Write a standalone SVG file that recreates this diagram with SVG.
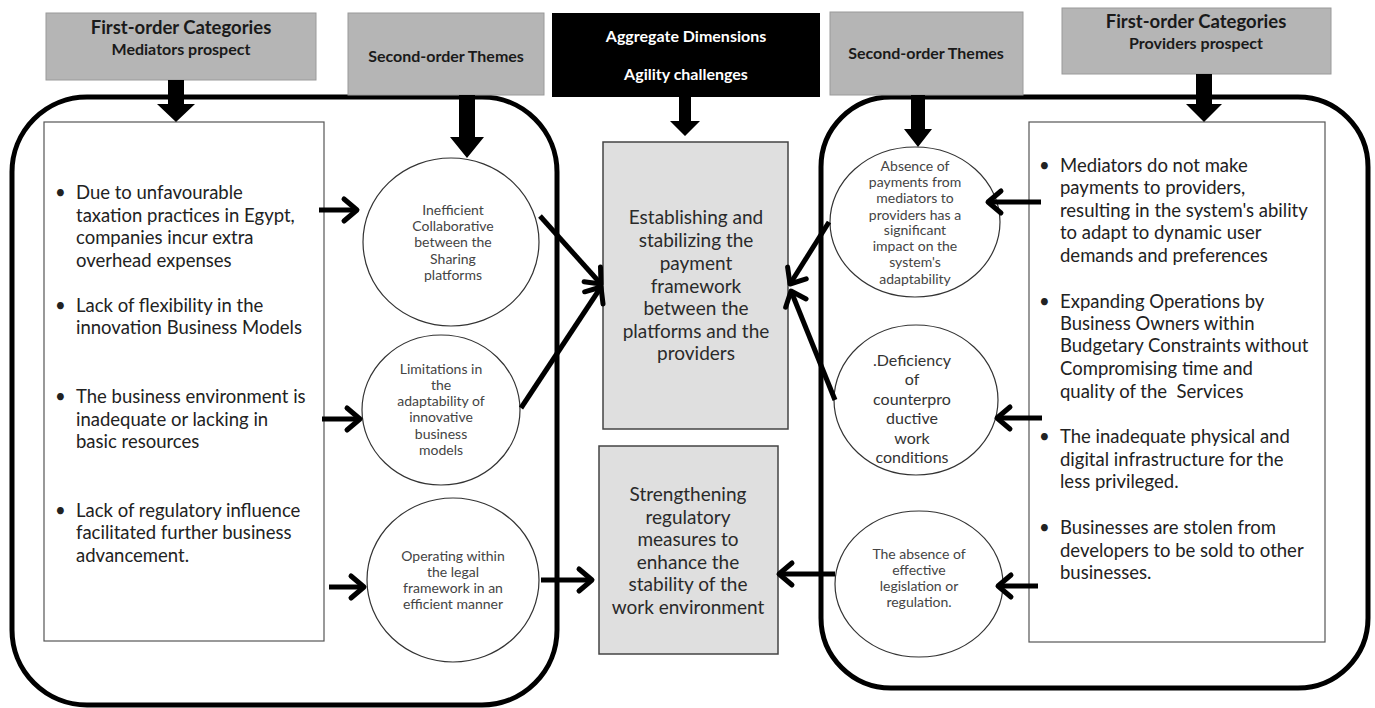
<svg xmlns="http://www.w3.org/2000/svg" width="1375" height="708" viewBox="0 0 1375 708">
<defs>
<style>
text{font-family:Lato,"Liberation Sans",sans-serif;fill:#222}
.hdr{fill:#b5b5b5;stroke:#9a9a9a;stroke-width:1}
.hb{font-weight:bold;font-size:16px;text-anchor:middle;fill:#1a1a1a}
.hbig{font-weight:bold;font-size:18.5px;text-anchor:middle;fill:#1a1a1a}
.hw{font-weight:bold;font-size:16px;text-anchor:middle;fill:#fff}
.cont{fill:none;stroke:#000;stroke-width:5}
.tbox{fill:#fff;stroke:#555;stroke-width:1.2}
.bt{font-size:18.5px;fill:#222}
.agg{fill:#dfdfdf;stroke:#444;stroke-width:1.5}
.at{font-size:19px;text-anchor:middle;fill:#2a2a2a}
.circ{fill:#fff;stroke:#333;stroke-width:1.2}
.ct{font-size:14px;text-anchor:middle;fill:#444}
.ctl{font-size:16px;text-anchor:middle;fill:#333}
.conn{stroke:#000;stroke-width:5;fill:none;marker-end:url(#ah)}
.blk{fill:#000}
</style>
<marker id="ah" viewBox="-20 -16 26 32" markerWidth="26" markerHeight="32" refX="0" refY="0" orient="auto" markerUnits="userSpaceOnUse">
<path d="M-13,-11 L0,0 L-13,11" fill="none" stroke="#000" stroke-width="5" stroke-linejoin="round" stroke-linecap="round"/>
</marker>
</defs>
<rect width="1375" height="708" fill="#fff"/>

<g id="containers">
<rect class="cont" x="12" y="97" width="545" height="608" rx="75" ry="75"/>
<rect class="cont" x="821" y="97" width="547" height="591" rx="70" ry="70"/>
</g>

<g id="hdr-first-mediators">
<rect class="hdr" x="46" y="13" width="270" height="67"/>
<text class="hbig" x="181" y="34">First-order Categories</text>
<text class="hb" x="181" y="55">Mediators prospect</text>
</g>
<g id="hdr-second-left">
<rect class="hdr" x="348" y="13" width="196" height="82"/>
<text class="hb" x="446" y="62">Second-order Themes</text>
</g>
<g id="hdr-aggregate">
<rect x="552" y="13" width="268" height="84" fill="#000"/>
<text class="hw" x="686" y="42">Aggregate Dimensions</text>
<text class="hw" x="686" y="80">Agility challenges</text>
</g>
<g id="hdr-second-right">
<rect class="hdr" x="830" y="12" width="193" height="83"/>
<text class="hb" x="926" y="59">Second-order Themes</text>
</g>
<g id="hdr-first-providers">
<rect class="hdr" x="1062" y="8" width="269" height="66"/>
<text class="hbig" x="1196" y="28">First-order Categories</text>
<text class="hb" x="1196" y="49">Providers prospect</text>
</g>

<g id="mediators-list">
<rect class="tbox" x="44" y="122" width="280" height="519"/>
<text class="bt" x="55" y="199">•</text>
<text class="bt" x="76" y="199">Due to unfavourable</text>
<text class="bt" x="76" y="222">taxation practices in Egypt,</text>
<text class="bt" x="76" y="244">companies incur extra</text>
<text class="bt" x="76" y="267">overhead expenses</text>
<text class="bt" x="55" y="312">•</text>
<text class="bt" x="76" y="312">Lack of flexibility in the</text>
<text class="bt" x="76" y="334">innovation Business Models</text>
<text class="bt" x="55" y="403">•</text>
<text class="bt" x="76" y="403">The business environment is</text>
<text class="bt" x="76" y="426">inadequate or lacking in</text>
<text class="bt" x="76" y="448">basic resources</text>
<text class="bt" x="55" y="517">•</text>
<text class="bt" x="76" y="517">Lack of regulatory influence</text>
<text class="bt" x="76" y="539">facilitated further business</text>
<text class="bt" x="76" y="562">advancement.</text>
</g>

<g id="theme-inefficient">
<ellipse class="circ" cx="451" cy="242" rx="88" ry="84"/>
<text class="ct" x="453" y="215">Inefficient</text>
<text class="ct" x="453" y="231">Collaborative</text>
<text class="ct" x="453" y="247">between the</text>
<text class="ct" x="453" y="264">Sharing</text>
<text class="ct" x="453" y="280">platforms</text>
</g>
<g id="theme-limitations">
<ellipse class="circ" cx="441" cy="410" rx="79" ry="75"/>
<text class="ct" x="441" y="374">Limitations in</text>
<text class="ct" x="441" y="390">the</text>
<text class="ct" x="441" y="406">adaptability of</text>
<text class="ct" x="441" y="422">innovative</text>
<text class="ct" x="441" y="439">business</text>
<text class="ct" x="441" y="455">models</text>
</g>
<g id="theme-operating">
<ellipse class="circ" cx="453" cy="580" rx="86" ry="82"/>
<text class="ct" x="453" y="561">Operating within</text>
<text class="ct" x="453" y="577">the legal</text>
<text class="ct" x="453" y="593">framework in an</text>
<text class="ct" x="453" y="609">efficient manner</text>
</g>

<g id="agg-payment">
<rect class="agg" x="603" y="142" width="185" height="287"/>
<text class="at" x="696" y="224">Establishing and</text>
<text class="at" x="696" y="247">stabilizing the</text>
<text class="at" x="696" y="270">payment</text>
<text class="at" x="696" y="293">framework</text>
<text class="at" x="696" y="315">between the</text>
<text class="at" x="696" y="338">platforms and the</text>
<text class="at" x="696" y="360">providers</text>
</g>
<g id="agg-regulatory">
<rect class="agg" x="599" y="446" width="179" height="208"/>
<text class="at" x="688" y="501">Strengthening</text>
<text class="at" x="688" y="524">regulatory</text>
<text class="at" x="688" y="546">measures to</text>
<text class="at" x="688" y="569">enhance the</text>
<text class="at" x="688" y="591">stability of the</text>
<text class="at" x="688" y="614">work environment</text>
</g>

<g id="theme-absence-payments">
<ellipse class="circ" cx="915" cy="222" rx="85" ry="75"/>
<text class="ct" x="915" y="171">Absence of</text>
<text class="ct" x="915" y="187">payments from</text>
<text class="ct" x="915" y="203">mediators to</text>
<text class="ct" x="915" y="220">providers has a</text>
<text class="ct" x="915" y="235">significant</text>
<text class="ct" x="915" y="251">impact on the</text>
<text class="ct" x="915" y="267">system's</text>
<text class="ct" x="915" y="284">adaptability</text>
</g>
<g id="theme-deficiency">
<ellipse class="circ" cx="916" cy="400" rx="82" ry="75"/>
<text class="ctl" x="912" y="366">.Deficiency</text>
<text class="ctl" x="912" y="385">of</text>
<text class="ctl" x="912" y="405">counterpro</text>
<text class="ctl" x="912" y="424">ductive</text>
<text class="ctl" x="912" y="444">work</text>
<text class="ctl" x="912" y="463">conditions</text>
</g>
<g id="theme-absence-legislation">
<ellipse class="circ" cx="919" cy="584" rx="84" ry="73"/>
<text class="ct" x="919" y="559">The absence of</text>
<text class="ct" x="919" y="575">effective</text>
<text class="ct" x="919" y="591">legislation or</text>
<text class="ct" x="919" y="607">regulation.</text>
</g>

<g id="providers-list">
<rect class="tbox" x="1029" y="122" width="296" height="520"/>
<text class="bt" x="1039" y="172">•</text>
<text class="bt" x="1060" y="172">Mediators do not make</text>
<text class="bt" x="1060" y="194">payments to providers,</text>
<text class="bt" x="1060" y="217">resulting in the system's ability</text>
<text class="bt" x="1060" y="239">to adapt to dynamic user</text>
<text class="bt" x="1060" y="262">demands and preferences</text>
<text class="bt" x="1039" y="308">•</text>
<text class="bt" x="1060" y="308">Expanding Operations by</text>
<text class="bt" x="1060" y="330">Business Owners within</text>
<text class="bt" x="1060" y="352">Budgetary Constraints without</text>
<text class="bt" x="1060" y="375">Compromising time and</text>
<text class="bt" x="1060" y="398" xml:space="preserve">quality of the  Services</text>
<text class="bt" x="1039" y="443">•</text>
<text class="bt" x="1060" y="443">The inadequate physical and</text>
<text class="bt" x="1060" y="466">digital infrastructure for the</text>
<text class="bt" x="1060" y="488">less privileged.</text>
<text class="bt" x="1039" y="534">•</text>
<text class="bt" x="1060" y="534">Businesses are stolen from</text>
<text class="bt" x="1060" y="557">developers to be sold to other</text>
<text class="bt" x="1060" y="579">businesses.</text>
</g>

<g id="connectors">
<polygon class="blk" points="168,80 184,80 184,104 195,104 176,122 157,104 168,104"/>
<polygon class="blk" points="459,95 475,95 475,137 484,137 467,158 450,137 459,137"/>
<polygon class="blk" points="679,97 691,97 691,121 700,121 685,136 670,121 679,121"/>
<polygon class="blk" points="911,95 925,95 925,129 932,129 918,147 904,129 911,129"/>
<polygon class="blk" points="1196,74 1212,74 1212,104 1222,104 1204,122 1186,104 1196,104"/>
<line class="conn" x1="319" y1="210" x2="357" y2="210"/>
<line class="conn" x1="322" y1="419" x2="360" y2="419"/>
<line class="conn" x1="329" y1="587" x2="364" y2="587"/>
<line class="conn" x1="540" y1="216" x2="601" y2="284"/>
<line class="conn" x1="521" y1="408" x2="601" y2="287"/>
<line class="conn" x1="541" y1="580" x2="592" y2="580"/>
<line class="conn" x1="1041" y1="202" x2="988" y2="202"/>
<line class="conn" x1="1042" y1="418" x2="997" y2="418"/>
<line class="conn" x1="1038" y1="586" x2="998" y2="586"/>
<line class="conn" x1="829" y1="222" x2="790" y2="284"/>
<line class="conn" x1="835" y1="400" x2="791" y2="291"/>
<line class="conn" x1="835" y1="574" x2="779" y2="574"/>
</g>
</svg>
